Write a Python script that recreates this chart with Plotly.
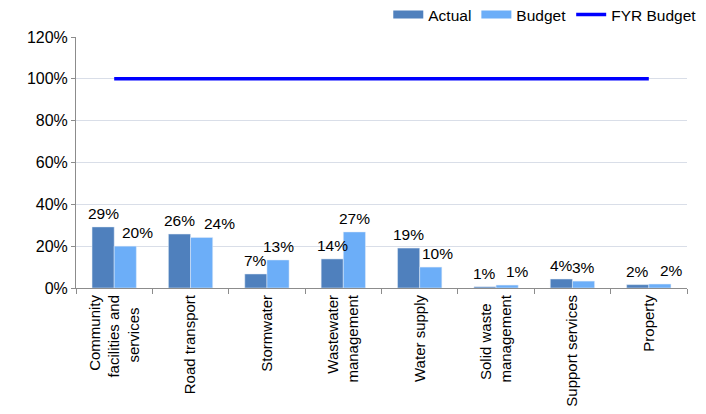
import plotly.graph_objects as go

NB = "\u00a0"
categories = ["Community<br>facilities and<br>services" + NB * 3, "Road transport", "Stormwater",
              "Wastewater<br>management", "Water supply", "Solid waste" + NB * 2 + "<br>management",
              "Support services", "Property"]
actual = [0.292, 0.258, 0.067, 0.139, 0.191, 0.006, 0.043, 0.016]
budget = [0.200, 0.242, 0.134, 0.268, 0.100, 0.014, 0.033, 0.019]
fyr_budget = [1.0] * 8
y_ticks = [0, 0.2, 0.4, 0.6, 0.8, 1.0, 1.2]
y_tick_labels = ["0%", "20%", "40%", "60%", "80%", "100%", "120%"]

# label styling: extra horizontal nudge (px) of budget data labels, as in the reference
budget_label_dx = [12, 18, 0, 0, 7, 10, 0, 12]

font_family = "Liberation Sans, Arial, sans-serif"
ACTUAL_C = "#4F80BD"
BUDGET_C = "#6CAEF8"

W, H = 698, 406
ML, MR, MT, MB = 68, 19, 29, 126
BARGAP = 0.42
plot_w = W - ML - MR
cat_w = plot_w / len(categories)
bar_off = (1 - BARGAP) * cat_w / 4

fig = go.Figure()
fig.add_trace(go.Bar(x=categories, y=actual, name="Actual", marker=dict(color=ACTUAL_C),
                     showlegend=False))
fig.add_trace(go.Bar(x=categories, y=budget, name="Budget", marker=dict(color=BUDGET_C),
                     showlegend=False))
fig.add_trace(go.Scatter(x=categories, y=fyr_budget, name="FYR Budget", mode="lines",
                         line=dict(color="#0000FF", width=3.5), showlegend=False))

# legend entries (wide swatches like the reference)
fig.add_trace(go.Scatter(x=[None], y=[None], mode="lines", name="Actual",
                         line=dict(color=ACTUAL_C, width=8)))
fig.add_trace(go.Scatter(x=[None], y=[None], mode="lines", name="Budget",
                         line=dict(color=BUDGET_C, width=8)))
fig.add_trace(go.Scatter(x=[None], y=[None], mode="lines", name="FYR Budget",
                         line=dict(color="#0000FF", width=3.5)))

for i, c in enumerate(categories):
    fig.add_annotation(x=c, y=actual[i], text=f"{round(actual[i]*100):d}%",
                       xshift=-bar_off, yshift=3, yanchor="bottom", showarrow=False,
                       font=dict(size=15.5, color="black"))
    fig.add_annotation(x=c, y=budget[i], text=f"{round(budget[i]*100):d}%",
                       xshift=bar_off + budget_label_dx[i], yshift=3, yanchor="bottom",
                       showarrow=False, font=dict(size=15.5, color="black"))

fig.update_layout(
    width=W, height=H,
    margin=dict(l=ML, r=MR, t=MT, b=MB, autoexpand=False),
    paper_bgcolor="white", plot_bgcolor="white",
    font=dict(family=font_family, size=15, color="black"),
    barmode="group", bargap=BARGAP, bargroupgap=0,
    showlegend=True,
    legend=dict(orientation="h", x=1.025, xanchor="right", y=1.088, yanchor="middle",
                font=dict(size=15.5), bgcolor="rgba(0,0,0,0)", traceorder="normal",
                itemwidth=30, tracegroupgap=0),
)
fig.update_xaxes(
    automargin=False,
    showline=True, linecolor="#8C8C8C", linewidth=1,
    ticks="outside", tickson="boundaries", ticklen=5, tickcolor="#8C8C8C",
    tickangle=-90, tickfont=dict(size=15), showgrid=False,
)
fig.update_yaxes(
    automargin=False,
    range=[0, 1.2], tickvals=y_ticks, ticktext=y_tick_labels,
    showline=True, linecolor="#8C8C8C", linewidth=1,
    ticks="outside", ticklen=4, tickcolor="#8C8C8C",
    showgrid=True, gridcolor="#D9DEE8", gridwidth=1,
    tickfont=dict(size=16), zeroline=False,
)

fig.write_html("out.html")
